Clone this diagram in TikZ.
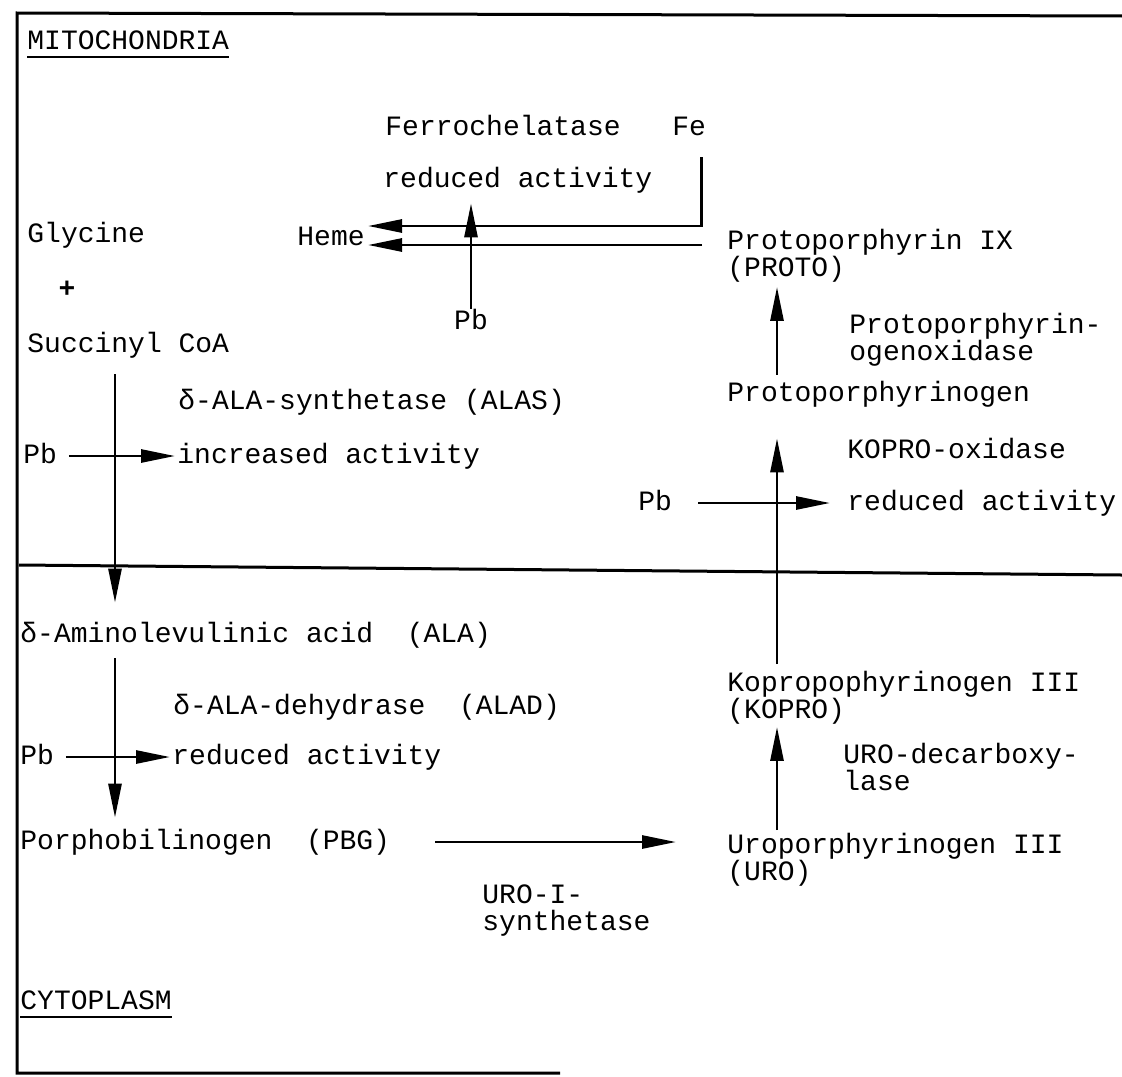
\documentclass[tikz,border=0pt]{standalone}
\usepackage{fontspec}
\setmonofont{Liberation Mono}
\usepackage{xcolor}
\usepackage{tikz}
\usetikzlibrary{arrows.meta, positioning, calc}

\begin{document}
\begin{tikzpicture}[x=0.5pt, y=-0.5pt,
    txt/.style={font=\ttfamily\fontsize{14}{13.5}\selectfont, inner sep=0pt, anchor=west, text height=10pt, text depth=3pt},
    txttwo/.style={font=\ttfamily\fontsize{14}{13.5}\selectfont, inner sep=0pt, anchor=west, align=left},
    arr/.style={line width=1.4pt, -{Triangle[length=17pt, width=6.5pt]}},
    wall/.style={line width=1.5pt}]
    \useasboundingbox (0,0) rectangle (1122,1076);

    % Frame and membrane
    \draw[wall] (1122,16) -- (17,13) -- (17,1073) -- (560,1073);
    \draw[wall] (19,565) -- (1122,575);

    % Compartments
    \node[txt] (mito) at (27,42) {MITOCHONDRIA};
    \draw[thick] ([yshift=-4pt]mito.base west) -- ([yshift=-4pt]mito.base east);
    \node[txt] (cyto) at (20,1002) {CYTOPLASM};
    \draw[thick] ([yshift=-4pt]cyto.base west) -- ([yshift=-4pt]cyto.base east);

    % Left column
    \node[txt] (gly) at (27,235) {Glycine};
    \node[txt, anchor=center, font=\ttfamily\bfseries\fontsize{14}{13.5}\selectfont] (plus) at (67,290) {+};
    \node[txt] (succ) at (27,345) {Succinyl CoA};
    \node[txt] (alas) at (178,402) {δ-ALA-synthetase (ALAS)};
    \node[txt] (pba) at (23,456) {Pb};
    \node[txt] (incr) at (177,456) {increased activity};
    \node[txt] (ala) at (20,635) {δ-Aminolevulinic acid\ \ (ALA)};
    \node[txt] (alad) at (173,707) {δ-ALA-dehydrase\ \ (ALAD)};
    \node[txt] (pbb) at (20,757) {Pb};
    \node[txt] (redb) at (172,757) {reduced activity};
    \node[txt] (pbg) at (20,842) {Porphobilinogen\ \ (PBG)};
    \node[txttwo] (urosyn) at (482,911) {URO-I-\\synthetase};

    % Heme corner
    \node[txt] (ferro) at (385,128) {Ferrochelatase};
    \node[txt] (fe) at (672,128) {Fe};
    \node[txt] (redfe) at (383,180) {reduced activity};
    \node[txt] (heme) at (297,238) {Heme};
    \node[txt, anchor=center] (pbfe) at (471,322) {Pb};

    % Right column
    \node[txttwo] (protoix) at (727,256) {Protoporphyrin IX\\(PROTO)};
    \node[txttwo] (protoox) at (849,340) {Protoporphyrin-\\ogenoxidase};
    \node[txt] (protogen) at (727,394) {Protoporphyrinogen};
    \node[txt] (kopox) at (847,451) {KOPRO-oxidase};
    \node[txt] (pbc) at (638,503) {Pb};
    \node[txt] (redc) at (847,503) {reduced activity};
    \node[txttwo] (kopro) at (727,698) {Kopropophyrinogen III\\(KOPRO)};
    \node[txttwo] (urodec) at (843,767) {URO-decarboxy-\\lase};
    \node[txttwo] (uro) at (727,860) {Uroporphyrinogen III\\(URO)};

    \coordinate (ax) at (115,0);
    \coordinate (bx) at (777,0);

    % Arrows
    \draw[arr, shorten <=8pt, shorten >=9.5pt] (succ.south -| ax) -- (ala.north -| ax);
    \draw[arr, shorten <=5pt, shorten >=5.5pt] (ala.south -| ax) -- (pbg.north -| ax);
    \draw[arr, shorten <=5.7pt, shorten >=1pt] (pba) -- (incr);
    \draw[arr, shorten <=5.7pt, shorten >=1pt] (pbb) -- (redb);
    \draw[arr, shorten <=22.5pt, shorten >=25.5pt] (pbg.east) -- (pbg.east -| uro.west);
    \draw[arr, shorten <=1.5pt, shorten >=1pt] (uro.north -| bx) -- (kopro.south -| bx);
    \draw[arr, shorten <=3.5pt, shorten >=15.5pt] (kopro.north -| bx) -- (protogen.south -| bx);
    \draw[arr, shorten <=13pt, shorten >=8.5pt] (pbc) -- (redc);
    \draw[arr, shorten <=3pt, shorten >=2pt] (protogen.north -| bx) -- (protoix.south -| bx);
    \draw[arr] ($(fe.south)+(12,16)$) |- ($(heme.east)+(3,-12)$);
    \draw[arr] ($(protoix.west)+(-25,-11)$) -- ($(heme.east)+(3,7)$);
    \draw[arr, shorten >=5pt] (pbfe.north) -- (pbfe.north |- redfe.south);
\end{tikzpicture}
\end{document}
